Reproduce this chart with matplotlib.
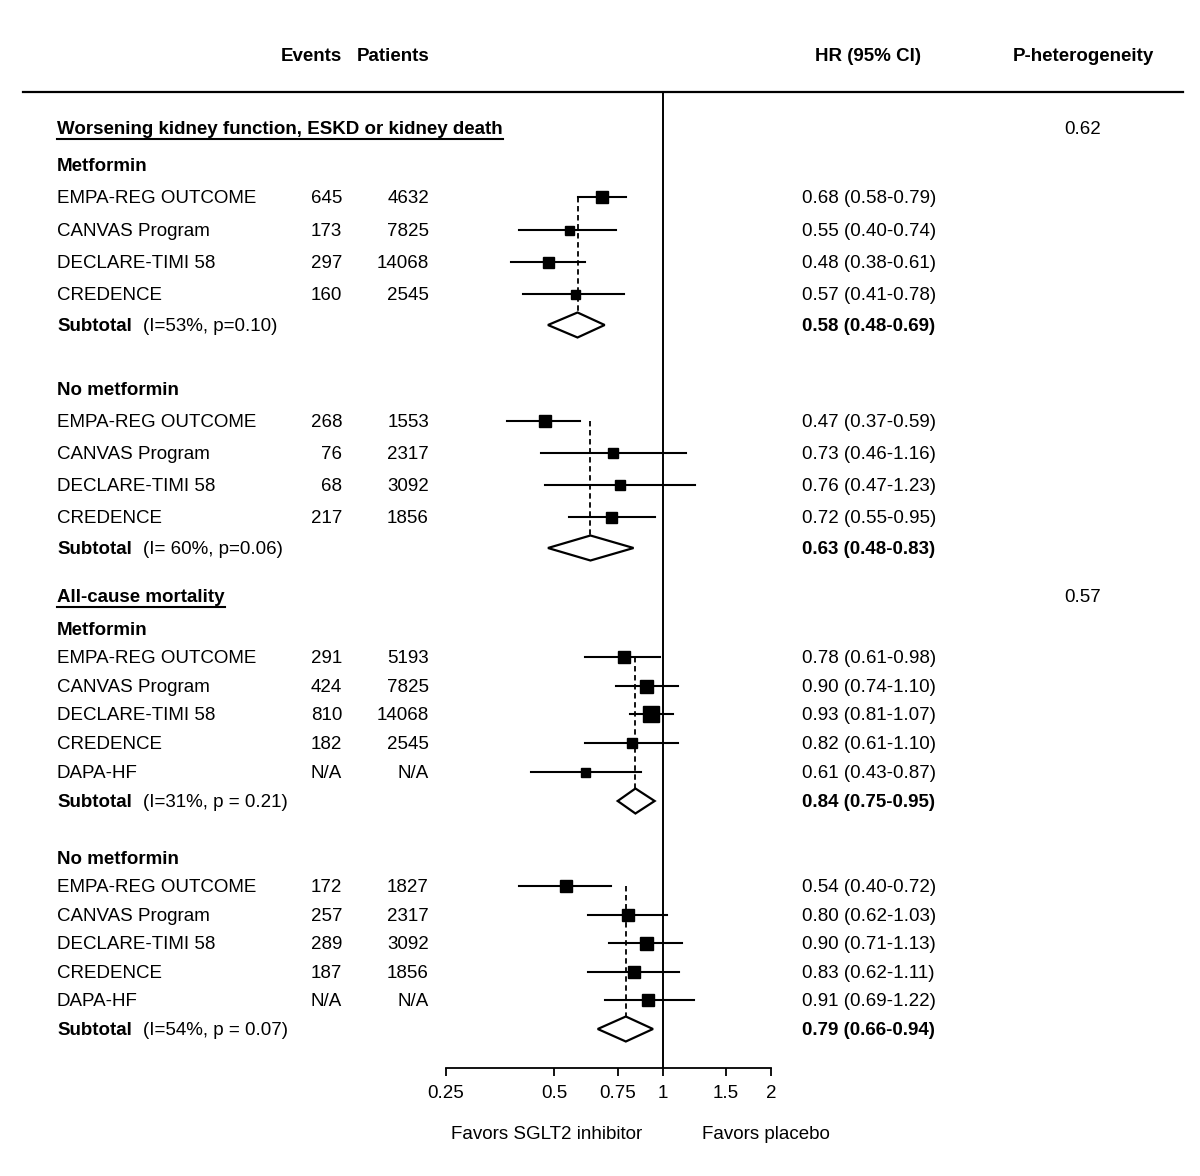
import matplotlib
matplotlib.use("Agg")
import matplotlib.pyplot as plt

plt.rcParams['font.family'] = ['Liberation Sans', 'DejaVu Sans']

# ---- data -------------------------------------------------------------
studies4 = ["EMPA-REG OUTCOME", "CANVAS Program", "DECLARE-TIMI 58", "CREDENCE"]
studies5 = studies4 + ["DAPA-HF"]

# Worsening kidney function, ESKD or kidney death - metformin
kid_met_events = ["645", "173", "297", "160"]
kid_met_patients = ["4632", "7825", "14068", "2545"]
kid_met_hr = [0.68, 0.55, 0.48, 0.57]
kid_met_lo = [0.58, 0.40, 0.38, 0.41]
kid_met_hi = [0.79, 0.74, 0.61, 0.78]
kid_met_sub = (0.58, 0.48, 0.69)
kid_met_het = "(I=53%, p=0.10)"

# Worsening kidney function, ESKD or kidney death - no metformin
kid_nomet_events = ["268", "76", "68", "217"]
kid_nomet_patients = ["1553", "2317", "3092", "1856"]
kid_nomet_hr = [0.47, 0.73, 0.76, 0.72]
kid_nomet_lo = [0.37, 0.46, 0.47, 0.55]
kid_nomet_hi = [0.59, 1.16, 1.23, 0.95]
kid_nomet_sub = (0.63, 0.48, 0.83)
kid_nomet_het = "(I= 60%, p=0.06)"

# All-cause mortality - metformin
mort_met_events = ["291", "424", "810", "182", "N/A"]
mort_met_patients = ["5193", "7825", "14068", "2545", "N/A"]
mort_met_hr = [0.78, 0.90, 0.93, 0.82, 0.61]
mort_met_lo = [0.61, 0.74, 0.81, 0.61, 0.43]
mort_met_hi = [0.98, 1.10, 1.07, 1.10, 0.87]
mort_met_sub = (0.84, 0.75, 0.95)
mort_met_het = "(I=31%, p = 0.21)"

# All-cause mortality - no metformin
mort_nomet_events = ["172", "257", "289", "187", "N/A"]
mort_nomet_patients = ["1827", "2317", "3092", "1856", "N/A"]
mort_nomet_hr = [0.54, 0.80, 0.90, 0.83, 0.91]
mort_nomet_lo = [0.40, 0.62, 0.71, 0.62, 0.69]
mort_nomet_hi = [0.72, 1.03, 1.13, 1.11, 1.22]
mort_nomet_sub = (0.79, 0.66, 0.94)
mort_nomet_het = "(I=54%, p = 0.07)"

p_het = ["0.62", "0.57"]
outcomes = ["Worsening kidney function, ESKD or kidney death", "All-cause mortality"]

xticks = [0.25, 0.5, 0.75, 1, 1.5, 2]
xtick_labels = ["0.25", "0.5", "0.75", "1", "1.5", "2"]

# box size (pixels) drawn for each study (study weight)
kid_met_box = [12, 9, 11, 9]
kid_nomet_box = [12, 10, 10, 11]
mort_met_box = [12, 13, 16, 10, 9]
mort_nomet_box = [12, 12, 13, 12, 12]

# ---- layout -----------------------------------------------------------
W, H = 1200, 1176
FS = 13.5
DY = 1.5  # nudge text down so caps line up with the boxes
X_NAME, X_EVENTS, X_PAT, X_HR, X_PHET = 57, 342, 429, 802, 1083

groups = [
    dict(title="Metformin", title_y=165, rows=[197, 230, 262, 294], sub_y=325,
         names=studies4, ev=kid_met_events, pt=kid_met_patients, hr=kid_met_hr,
         lo=kid_met_lo, hi=kid_met_hi, sub=kid_met_sub, het=kid_met_het, box=kid_met_box),
    dict(title="No metformin", title_y=389, rows=[421, 453, 485, 517], sub_y=548,
         names=studies4, ev=kid_nomet_events, pt=kid_nomet_patients, hr=kid_nomet_hr,
         lo=kid_nomet_lo, hi=kid_nomet_hi, sub=kid_nomet_sub, het=kid_nomet_het, box=kid_nomet_box),
    dict(title="Metformin", title_y=629, rows=[657, 686, 714, 743, 772], sub_y=801,
         names=studies5, ev=mort_met_events, pt=mort_met_patients, hr=mort_met_hr,
         lo=mort_met_lo, hi=mort_met_hi, sub=mort_met_sub, het=mort_met_het, box=mort_met_box),
    dict(title="No metformin", title_y=858, rows=[886, 915, 943, 972, 1000], sub_y=1029,
         names=studies5, ev=mort_nomet_events, pt=mort_nomet_patients, hr=mort_nomet_hr,
         lo=mort_nomet_lo, hi=mort_nomet_hi, sub=mort_nomet_sub, het=mort_nomet_het, box=mort_nomet_box),
]
outcome_y = [128, 596]

fig = plt.figure(figsize=(W / 100, H / 100), dpi=100)
fig.patch.set_facecolor("white")

# text layer in pixel coordinates
tax = fig.add_axes([0, 0, 1, 1])
tax.set_xlim(0, W)
tax.set_ylim(H, 0)
tax.axis("off")

# forest plot axes (log scale)
ax_top, ax_bot = 92, 1068
ax = fig.add_axes([446 / W, (H - ax_bot) / H, (771 - 446) / W, (ax_bot - ax_top) / H])
ax.set_facecolor("none")
ax.set_xscale("log", base=2)
ax.set_xlim(0.25, 2)
ax.set_ylim(ax_bot, ax_top)
for s in ["left", "right", "top"]:
    ax.spines[s].set_visible(False)
ax.spines["bottom"].set_linewidth(1.3)
ax.set_xticks(xticks)
ax.set_xticklabels(xtick_labels, fontsize=FS)
ax.minorticks_off()
ax.tick_params(axis="x", direction="out", length=6, width=1.3, pad=6)
ax.set_yticks([])
ax.axvline(1, color="black", lw=1.4)

# header
hdr = dict(fontsize=FS, fontweight="bold", va="center")
tax.text(X_EVENTS, 55 + DY, "Events", ha="right", **hdr)
tax.text(X_PAT, 55 + DY, "Patients", ha="right", **hdr)
tax.text(868, 55 + DY, "HR (95% CI)", ha="center", **hdr)
tax.text(X_PHET, 55 + DY, "P-heterogeneity", ha="center", **hdr)
tax.plot([23, 1183], [92, 92], color="black", lw=1.6)

# outcome headings (underlined) and p-heterogeneity
heads = []
for name, y, p in zip(outcomes, outcome_y, p_het):
    t = tax.text(X_NAME, y + DY, name, fontsize=FS, fontweight="bold", va="center", ha="left")
    heads.append((t, y))
    tax.text(X_PHET, y + DY, p, fontsize=FS, va="center", ha="center")

for g in groups:
    tax.text(X_NAME, g["title_y"] + DY, g["title"], fontsize=FS, fontweight="bold", va="center")
    for i, y in enumerate(g["rows"]):
        tax.text(X_NAME, y + DY, g["names"][i], fontsize=FS, va="center")
        tax.text(X_EVENTS, y + DY, g["ev"][i], fontsize=FS, va="center", ha="right")
        tax.text(X_PAT, y + DY, g["pt"][i], fontsize=FS, va="center", ha="right")
        tax.text(X_HR, y + DY, f"{g['hr'][i]:.2f} ({g['lo'][i]:.2f}-{g['hi'][i]:.2f})",
                 fontsize=FS, va="center")
        ax.plot([g["lo"][i], g["hi"][i]], [y, y], color="black", lw=1.5, zorder=3)
        ax.plot([g["hr"][i]], [y], marker="s", color="black",
                markersize=g["box"][i] * 0.72, zorder=4)
    est, lo, hi = g["sub"]
    ys = g["sub_y"]
    tax.text(X_NAME, ys + DY, "Subtotal", fontsize=FS, fontweight="bold", va="center")
    tax.text(143, ys + DY, g["het"], fontsize=FS, va="center")
    tax.text(X_HR, ys + DY, f"{est:.2f} ({lo:.2f}-{hi:.2f})", fontsize=FS,
             fontweight="bold", va="center")
    dh = 12.5
    ax.fill([lo, est, hi, est, lo], [ys, ys - dh, ys, ys + dh, ys],
            facecolor="white", edgecolor="black", lw=1.6, zorder=3)
    ax.plot([est, est], [g["rows"][0], ys - dh], color="black", lw=1.3,
            linestyle=(0, (3, 2)), zorder=2)

# axis captions
tax.text(547, 1133 + DY, "Favors SGLT2 inhibitor", fontsize=FS, ha="center", va="center")
tax.text(702, 1133 + DY, "Favors placebo", fontsize=FS, ha="left", va="center")

# underline the outcome headings
fig.canvas.draw()
renderer = fig.canvas.get_renderer()
inv = tax.transData.inverted()
for t, y in heads:
    bb = t.get_window_extent(renderer)
    x0 = inv.transform((bb.x0, bb.y0))[0]
    x1 = inv.transform((bb.x1, bb.y0))[0]
    tax.plot([x0, x1], [y + 11, y + 11], color="black", lw=1.5)

fig.savefig("out.png", dpi=100, facecolor="white")
